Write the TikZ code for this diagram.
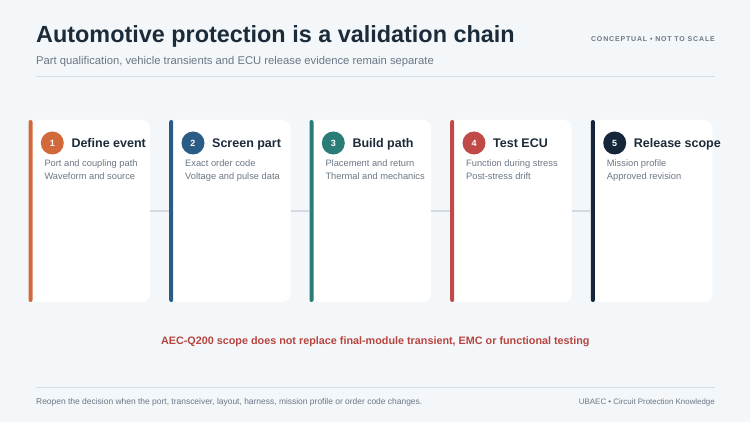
\documentclass[tikz,border=0pt]{standalone}
\usepackage{fontspec}
\setmainfont{Liberation Sans}
\definecolor{bg}{HTML}{F3F7F9}
\definecolor{ink}{HTML}{1C2B3A}
\definecolor{muted}{HTML}{6B7785}
\definecolor{rulec}{HTML}{D5DDE3}
\definecolor{connc}{HTML}{D3DAE1}
\definecolor{cOne}{HTML}{D2693A}
\definecolor{cTwo}{HTML}{2B5C85}
\definecolor{cThree}{HTML}{2A7C76}
\definecolor{cFour}{HTML}{C04A48}
\definecolor{cFive}{HTML}{15263A}
\definecolor{warn}{HTML}{B8443F}
\tikzset{
  card/.style={fill=white, rounded corners=8pt, minimum width=120pt, minimum height=182pt, inner sep=0pt, anchor=west},
  accent/.style={fill=#1, rounded corners=2pt, minimum width=4pt, minimum height=182pt, inner sep=0pt, anchor=west},
  badge/.style={circle, fill=#1, minimum size=23pt, inner sep=0pt, text=white, font=\fontsize{9}{10}\selectfont\bfseries},
  cardtitle/.style={anchor=base west, inner sep=0pt, text=ink, font=\fontsize{12.5}{14}\selectfont\bfseries},
  cardbody/.style={anchor=base west, inner sep=0pt, text=muted, font=\fontsize{9.3}{11}\selectfont},
  conn/.style={draw=connc, line width=2.6pt},
  hrule/.style={draw=rulec, line width=0.9pt},
}
\begin{document}
\begin{tikzpicture}[x=1pt,y=-1pt]
\fill[bg] (0,0) rectangle (750,422);
\useasboundingbox (0,0) rectangle (750,422);
% header
\node[anchor=base west, inner sep=0pt, text=ink, font=\fontsize{23.4}{26}\selectfont\bfseries] (title) at (36,42.5) {Automotive protection is a validation chain};
\node[anchor=base west, inner sep=0pt, text=muted, font=\fontsize{11.25}{13}\selectfont] (subtitle) at (36,65) {Part qualification, vehicle transients and ECU release evidence remain separate};
\node[anchor=base east, inner sep=0pt, text=muted, font=\fontsize{7}{8}\selectfont\bfseries\addfontfeature{LetterSpace=12}] (tag) at (715,41.5) {CONCEPTUAL • NOT TO SCALE};
\coordinate (r1a) at (36,76);
\coordinate (r1b) at (715,76);
\draw[hrule] (r1a) -- (r1b);
% cards
\foreach \i/\x/\col/\ttl/\la/\lb in {
  1/28.3/cOne/Define event/Port and coupling path/Waveform and source,
  2/169/cTwo/Screen part/Exact order code/Voltage and pulse data,
  3/309.3/cThree/Build path/Placement and return/Thermal and mechanics,
  4/450/cFour/Test ECU/Function during stress/Post-stress drift,
  5/590.7/cFive/Release scope/Mission profile/Approved revision}{
  \node[card] (c\i) at (\x+1.5,211) {};
  \node[accent=\col] (b\i) at (\x,211) {};
  \node[badge=\col] (n\i) at (\x+24,143) {\i};
  \node[cardtitle] (t\i) at (\x+43,147.5) {\ttl};
  \node[cardbody] (la\i) at (\x+16,166.5) {\la};
  \node[cardbody] (lb\i) at (\x+16,179.8) {\lb};
}
\draw[conn] (c1.east) -- (b2.west);
\draw[conn] (c2.east) -- (b3.west);
\draw[conn] (c3.east) -- (b4.west);
\draw[conn] (c4.east) -- (b5.west);
% warning
\node[anchor=base, inner sep=0pt, text=warn, font=\fontsize{10.8}{13}\selectfont\bfseries] (warnline) at (375.3,344.8) {AEC-Q200 scope does not replace final-module transient, EMC or functional testing};
% footer
\coordinate (r2a) at (36,387);
\coordinate (r2b) at (715,387);
\draw[hrule] (r2a) -- (r2b);
\node[anchor=base west, inner sep=0pt, text=muted, font=\fontsize{8.45}{9}\selectfont] (foot) at (36,404.2) {Reopen the decision when the port, transceiver, layout, harness, mission profile or order code changes.};
\node[anchor=base east, inner sep=0pt, text=muted, font=\fontsize{7.9}{9}\selectfont] (brand) at (715,404.2) {UBAEC • Circuit Protection Knowledge};
\end{tikzpicture}
\end{document}
